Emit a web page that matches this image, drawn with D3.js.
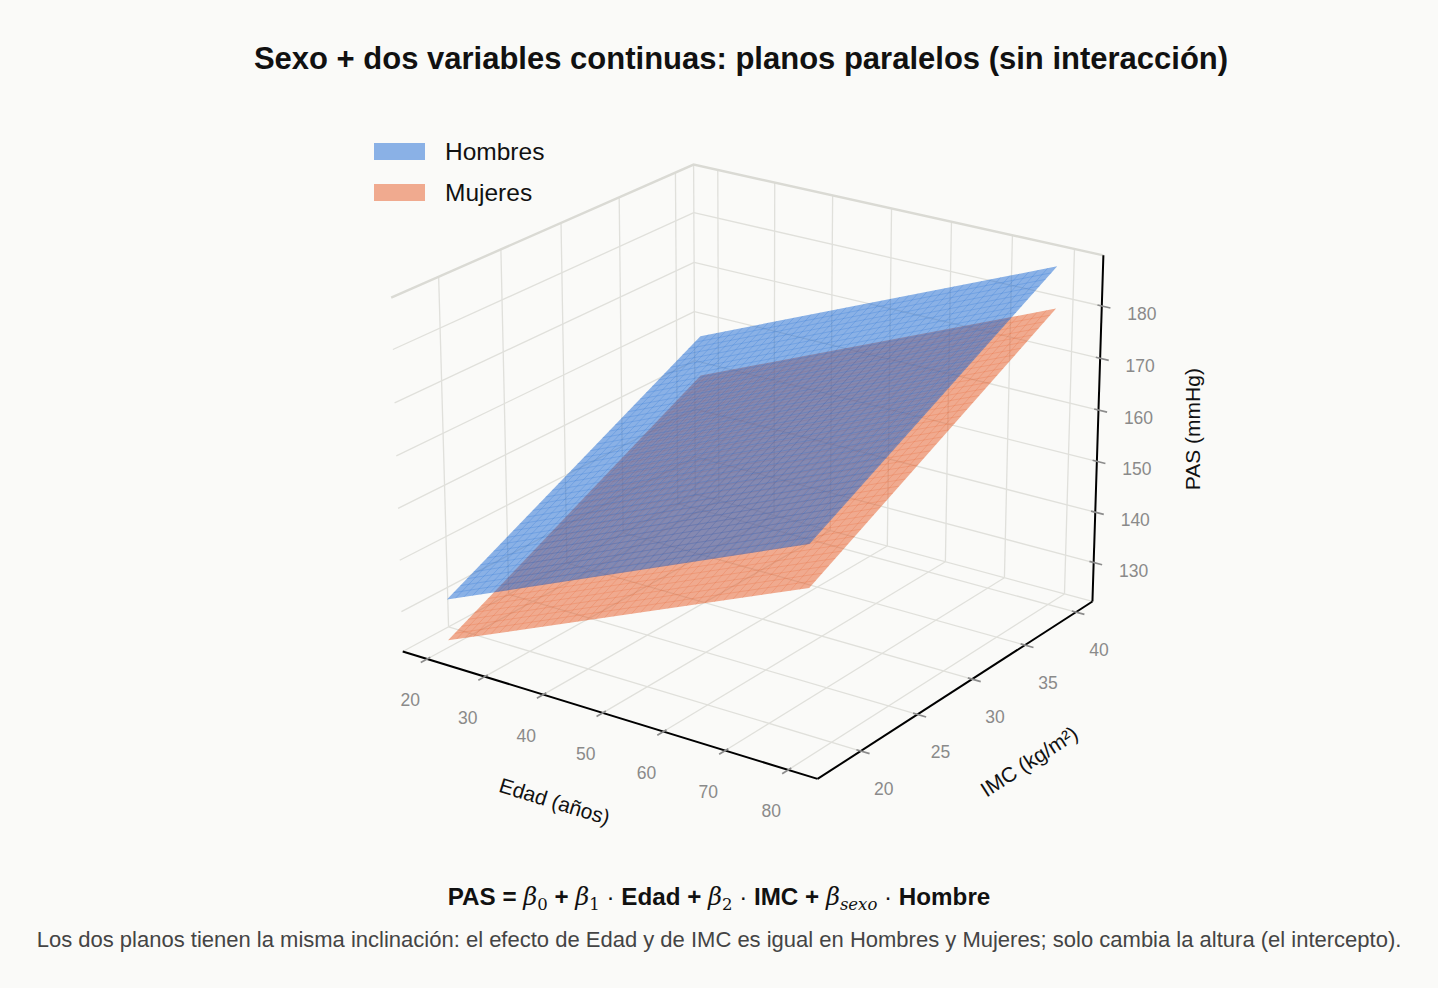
<!DOCTYPE html>
<html>
<head>
<meta charset="utf-8">
<script src="https://cdn.jsdelivr.net/npm/d3@7"></script>
<style>
  body { margin: 0; background: #fafaf8; }
  svg { display: block; font-family: "Liberation Sans", Arial, Helvetica, sans-serif; }
</style>
</head>
<body>
<svg id="grafico" width="1438" height="988"></svg>
<script>
// ---- datos ----
const edadTicks = [20, 30, 40, 50, 60, 70, 80];
const imcTicks = [20, 25, 30, 35, 40];
const pasTicks = [130, 140, 150, 160, 170, 180];
const edadRango = [20, 80];
const imcRango = [18, 40];
// PAS en las esquinas de cada plano: [edad 20, edad 80] x [imc 18, imc 40]
const pasHombres = [[131.6, 158.0], [161.6, 188.0]];
const pasMujeres = [[123.6, 150.0], [153.6, 180.0]];
const grupos = ["Hombres", "Mujeres"];
const colores = ["#1a68d4", "#e65a26"];

// limites de los ejes (con el margen que pone matplotlib)
const xlim = [15.7, 84.6], ylim = [16.3, 41.65], zlim = [122.2, 189.6];

// ---- proyeccion 3D (azimut -55, elevacion 22, perspectiva) ----
const az = -55 * Math.PI / 180, el = 22 * Math.PI / 180;
const distancia = 8.75, focal = 4402, cx = 752, cy = 454;
const sx = d3.scaleLinear().domain(xlim).range([-0.5, 0.5]);
const sy = d3.scaleLinear().domain(ylim).range([-0.5, 0.5]);
const sz = d3.scaleLinear().domain(zlim).range([-0.375, 0.375]);
const vR = [-Math.sin(az), Math.cos(az), 0];
const vU = [-Math.sin(el) * Math.cos(az), -Math.sin(el) * Math.sin(az), Math.cos(el)];
const vE = [Math.cos(el) * Math.cos(az), Math.cos(el) * Math.sin(az), Math.sin(el)];

function proy(x, y, z) {
    const p = [sx(x), sy(y), sz(z)];
    const dot = v => p[0] * v[0] + p[1] * v[1] + p[2] * v[2];
    const d = distancia - dot(vE);
    return [cx + focal * dot(vR) / d, cy - focal * dot(vU) / d];
}

const svg = d3.select("#grafico");
svg.append("rect").attr("width", 1438).attr("height", 988).attr("fill", "#fafaf8");

const linea = d3.line();
function segmento(g, a, b) {
    return g.append("path").attr("d", linea([proy(...a), proy(...b)]));
}

// ---- paneles y rejilla ----
const rejilla = svg.append("g")
    .attr("fill", "none")
    .attr("stroke", "#e0e0db")
    .attr("stroke-width", 1.3);
const [x0, x1] = xlim, [y0, y1] = ylim, [z0, z1] = zlim;

// suelo
edadTicks.forEach(t => segmento(rejilla, [t, y0, z0], [t, y1, z0]));
imcTicks.forEach(t => segmento(rejilla, [x0, t, z0], [x1, t, z0]));
// pared izquierda (x = min)
imcTicks.forEach(t => segmento(rejilla, [x0, t, z0], [x0, t, z1]));
pasTicks.forEach(t => segmento(rejilla, [x0, y0, t], [x0, y1, t]));
// pared del fondo (y = max)
edadTicks.forEach(t => segmento(rejilla, [t, y1, z0], [t, y1, z1]));
pasTicks.forEach(t => segmento(rejilla, [x0, y1, t], [x1, y1, t]));
// bordes de los paneles
segmento(rejilla, [x0, y0, z0], [x0, y1, z0]);
segmento(rejilla, [x0, y1, z0], [x1, y1, z0]);
segmento(rejilla, [x0, y1, z0], [x0, y1, z1]);
svg.append("path")
    .attr("d", linea([proy(x0, y0, z1), proy(x0, y1, z1), proy(x1, y1, z1)]))
    .attr("fill", "none")
    .attr("stroke", "#dadad4")
    .attr("stroke-width", 2.4);

// ---- planos ----
const planos = [pasMujeres, pasHombres];
const coloresPlano = [colores[1], colores[0]];
const opacidad = 0.5;
const nMalla = 40;
planos.forEach((pas, k) => {
    const esquina = (i, j) => [edadRango[i], imcRango[j], pas[i][j]];
    const g = svg.append("g");
    g.append("path")
        .attr("d", linea([esquina(0, 0), esquina(1, 0), esquina(1, 1), esquina(0, 1)].map(p => proy(...p))) + "Z")
        .attr("fill", coloresPlano[k])
        .attr("fill-opacity", opacidad);
    // malla fina de la superficie
    const mezcla = (a, b, f) => a.map((v, i) => v + (b[i] - v) * f);
    const malla = g.append("g")
        .attr("fill", "none")
        .attr("stroke", coloresPlano[k])
        .attr("stroke-opacity", 0.3)
        .attr("stroke-width", 0.7);
    d3.range(1, nMalla).forEach(s => {
        const f = s / nMalla;
        segmento(malla, mezcla(esquina(0, 0), esquina(1, 0), f), mezcla(esquina(0, 1), esquina(1, 1), f));
        segmento(malla, mezcla(esquina(0, 0), esquina(0, 1), f), mezcla(esquina(1, 0), esquina(1, 1), f));
    });
});

// ---- ejes ----
const ejes = svg.append("g").attr("fill", "none").attr("stroke", "#000").attr("stroke-width", 2);
segmento(ejes, [x0, y0, z0], [x1, y0, z0]);
segmento(ejes, [x1, y0, z0], [x1, y1, z0]);
segmento(ejes, [x1, y1, z0], [x1, y1, z1]);

const marcas = svg.append("g").attr("fill", "none").attr("stroke", "#8c8c8c").attr("stroke-width", 1.7);
const etiquetas = svg.append("g")
    .attr("fill", "#8a8a8a")
    .attr("font-size", 17.5)
    .attr("text-anchor", "middle")
    .attr("dominant-baseline", "central");
const dy = y1 - y0, dx = x1 - x0;

edadTicks.forEach(t => {
    segmento(marcas, [t, y0 + 0.01 * dy, z0], [t, y0 - 0.02 * dy, z0]);
    const p = proy(t, y0, z0);
    etiquetas.append("text").attr("x", p[0] - 17).attr("y", p[1] + 41).text(t);
});
imcTicks.forEach(t => {
    segmento(marcas, [x1 - 0.01 * dx, t, z0], [x1 + 0.02 * dx, t, z0]);
    const p = proy(x1, t, z0);
    etiquetas.append("text").attr("x", p[0] + 23).attr("y", p[1] + 38).text(t);
});
pasTicks.forEach(t => {
    segmento(marcas, [x1 - 0.01 * dx, y1, t], [x1 + 0.02 * dx, y1, t]);
    const p = proy(x1, y1, t);
    etiquetas.append("text").attr("x", p[0] + 40).attr("y", p[1] + 8).text(t);
});

// titulos de los ejes
const angulo = (a, b) => {
    const pa = proy(...a), pb = proy(...b);
    return Math.atan2(pb[1] - pa[1], pb[0] - pa[0]) * 180 / Math.PI;
};
function tituloEje(texto, x, y, rot) {
    svg.append("text")
        .attr("transform", `translate(${x},${y}) rotate(${rot})`)
        .attr("text-anchor", "middle")
        .attr("dominant-baseline", "central")
        .attr("font-size", 21)
        .attr("fill", "#111")
        .text(texto);
}
const mEdad = proy((x0 + x1) / 2, y0, z0);
tituloEje("Edad (años)", mEdad[0] - 49, mEdad[1] + 88, angulo([x0, y0, z0], [x1, y0, z0]));
const mImc = proy(x1, (y0 + y1) / 2, z0);
tituloEje("IMC (kg/m²)", mImc[0] + 68, mImc[1] + 75, angulo([x1, y0, z0], [x1, y1, z0]));
const mPas = proy(x1, y1, (z0 + z1) / 2);
tituloEje("PAS (mmHg)", mPas[0] + 95, mPas[1] - 2, -90);

// ---- leyenda ----
const leyenda = svg.append("g").attr("transform", "translate(374,143)");
grupos.forEach((nombre, i) => {
    leyenda.append("rect")
        .attr("x", 0).attr("y", i * 41)
        .attr("width", 51).attr("height", 17)
        .attr("fill", colores[i])
        .attr("fill-opacity", opacidad);
    leyenda.append("text")
        .attr("x", 71).attr("y", i * 41 + 17)
        .attr("font-size", 24.5)
        .attr("fill", "#111")
        .text(nombre);
});

// ---- titulo, formula y nota ----
svg.append("text")
    .attr("x", 741).attr("y", 69)
    .attr("text-anchor", "middle")
    .attr("font-size", 31)
    .attr("font-weight", "bold")
    .attr("fill", "#111")
    .text("Sexo + dos variables continuas: planos paralelos (sin interacción)");

const formula = svg.append("text")
    .attr("x", 719).attr("y", 905)
    .attr("text-anchor", "middle")
    .attr("font-size", 24.2)
    .attr("font-weight", "bold")
    .attr("fill", "#111");
const piezas = [
    ["PAS = ", "b"], ["β", "g"], ["0", "s"], [" + ", "b"], ["β", "g"], ["1", "s"], [" · ", "d"],
    ["Edad + ", "b"], ["β", "g"], ["2", "s"], [" · ", "d"], ["IMC + ", "b"],
    ["β", "g"], ["sexo", "si"], [" · ", "d"], ["Hombre", "b"]
];
let bajado = false;
piezas.forEach(([txt, tipo]) => {
    const ts = formula.append("tspan").text(txt);
    if (tipo === "g") {
        ts.attr("font-family", "'DejaVu Serif', serif").attr("font-style", "italic").attr("font-weight", "normal");
    } else if (tipo === "s" || tipo === "si") {
        ts.attr("font-family", "'DejaVu Serif', serif").attr("font-weight", "normal")
          .attr("font-size", 16.5).attr("dy", 5);
        if (tipo === "si") ts.attr("font-style", "italic");
        bajado = true;
        return;
    } else if (tipo === "d") {
        ts.attr("font-weight", "normal");
    }
    if (bajado) { ts.attr("dy", -5); bajado = false; }
});

svg.append("text")
    .attr("x", 719).attr("y", 947)
    .attr("text-anchor", "middle")
    .attr("font-size", 22)
    .attr("fill", "#444")
    .text("Los dos planos tienen la misma inclinación: el efecto de Edad y de IMC es igual en Hombres y Mujeres; solo cambia la altura (el intercepto).");
</script>
</body>
</html>
